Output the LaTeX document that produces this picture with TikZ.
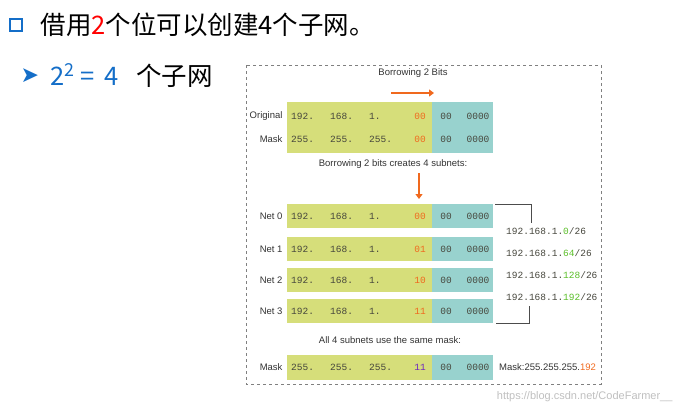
\documentclass[tikz,border=0pt]{standalone}
\usepackage{fontspec}
\usetikzlibrary{arrows.meta}
\setmainfont{Liberation Sans}
\newfontfamily\cjk{Noto Sans CJK SC}
\newfontfamily\mono{Liberation Mono}
\newfontfamily\dv{DejaVu Sans}
\definecolor{gr}{RGB}{214,222,122}
\definecolor{cy}{RGB}{152,210,206}
\definecolor{org}{RGB}{240,105,30}
\definecolor{grn}{RGB}{90,190,40}
\definecolor{pur}{RGB}{110,40,190}
\definecolor{blu}{RGB}{20,110,200}
\definecolor{num}{RGB}{70,70,60}
\begin{document}
\begin{tikzpicture}[x=1pt,y=-1pt,
  lab/.style={anchor=east,font=\fontsize{9.5}{10}\selectfont,text=black!80},
  nm/.style={font=\mono\fontsize{9.5}{10}\selectfont,text=num},
  captxt/.style={font=\fontsize{9.5}{10}\selectfont,text=black!80},
  arr/.style={org,line width=2pt,-{Triangle[length=5pt,width=7pt]}}]
\useasboundingbox (0,0) rectangle (683,410);
% title
\node (sq) [draw=blu,line width=2.5pt,minimum size=12pt,inner sep=0pt] at (16,25) {};
\node (t1) [anchor=west,font=\cjk\fontsize{25.5}{26}\selectfont] at (37,25) {借用\textcolor{red}{2}个位可以创建4个子网。};
\node (t2a) [anchor=west,font=\dv\fontsize{22}{22}\selectfont,text=blu] at (17,76) {➤};
\node (t2) [anchor=west,font=\cjk\fontsize{25.5}{26}\selectfont] at (47,76) {\textcolor{blu}{2\textsuperscript{2} = \,4} \ \ 个子网};
% frame
\draw[gray,dashed] (246,65) rectangle (601,384);
\node (b1) [captxt] at (413,73) {Borrowing 2 Bits};
\coordinate (a1s) at (391,93); \coordinate (a1e) at (434,93);
\draw[arr] (a1s) -- (a1e);
% block rows
\newcommand{\blk}[2]{\fill[gr] (287,#1) rectangle (432,#2); \fill[cy] (432,#1) rectangle (493,#2);}
\newcommand{\rw}[5]{%
  \node[lab] at (286,#1) {#2};
  \node[nm,anchor=west,inner sep=0pt] at (291,#1) {#3};
  \node[nm,anchor=west,inner sep=0pt] at (330,#1) {#4};
  \node[nm,anchor=west,inner sep=0pt] at (369,#1) {#5};}
\newcommand{\tl}[1]{\node[nm] at (446,#1) {00}; \node[nm] at (478,#1) {0000};}
\blk{102}{153}
\rw{116}{Original}{192.}{168.}{1.} \node[nm,text=org] at (420,116) {00}; \tl{116}
\rw{139}{Mask}{255.}{255.}{255.} \node[nm,text=org] at (420,139) {00}; \tl{139}
\node (b2) [captxt] at (393,164) {Borrowing 2 bits creates 4 subnets:};
\coordinate (a2s) at (419,173); \coordinate (a2e) at (419,199);
\draw[arr] (a2s) -- (a2e);
\blk{204}{228} \rw{216}{Net 0}{192.}{168.}{1.} \node[nm,text=org] at (420,216) {00}; \tl{216}
\blk{237}{261} \rw{249}{Net 1}{192.}{168.}{1.} \node[nm,text=org] at (420,249) {01}; \tl{249}
\blk{268}{292} \rw{280}{Net 2}{192.}{168.}{1.} \node[nm,text=org] at (420,280) {10}; \tl{280}
\blk{299}{323} \rw{311}{Net 3}{192.}{168.}{1.} \node[nm,text=org] at (420,311) {11}; \tl{311}
% bracket
\coordinate (k1) at (495,204); \coordinate (k2) at (531,204); \coordinate (k3) at (531,223);
\coordinate (k4) at (496,323); \coordinate (k5) at (529,323); \coordinate (k6) at (529,306);
\draw[black!70] (k1) -- (k2) -- (k3);
\draw[black!70] (k4) -- (k5) -- (k6);
\node[nm,anchor=west,inner sep=0pt] at (506,231) {192.168.1.\textcolor{grn}{0}/26};
\node[nm,anchor=west,inner sep=0pt] at (506,253) {192.168.1.\textcolor{grn}{64}/26};
\node[nm,anchor=west,inner sep=0pt] at (506,275) {192.168.1.\textcolor{grn}{128}/26};
\node[nm,anchor=west,inner sep=0pt] at (506,297) {192.168.1.\textcolor{grn}{192}/26};
\node (b3) [captxt] at (390,340) {All 4 subnets use the same mask:};
\blk{355}{380} \rw{367}{Mask}{255.}{255.}{255.} \node[nm,text=pur] at (420,367) {11}; \tl{367}
\node (mk) [captxt,anchor=west,inner sep=0pt] at (499,367) {Mask:255.255.255.\textcolor{org}{192}};
\node (wm) [anchor=east,font=\fontsize{11}{12}\selectfont,text=black!25] at (676,397) {https://blog.csdn.net/CodeFarmer\_\_};
\end{tikzpicture}
\end{document}
